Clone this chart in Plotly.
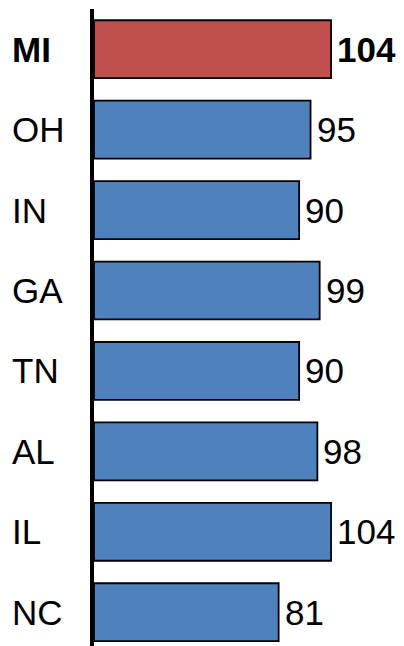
''' State ranking bar chart '''
import plotly.graph_objects as go

states = ['MI', 'OH', 'IN', 'GA', 'TN', 'AL', 'IL', 'NC']
values = [104, 95, 90, 99, 90, 98, 104, 81]
highlight = 'MI'

red = '#C0504D'
blue = '#4F81BD'
font = 'Liberation Sans, Arial, sans-serif'

colors = [red if s == highlight else blue for s in states]

fig = go.Figure()

fig.add_trace(
    go.Bar(
        x = values,
        y = states,
        orientation = 'h',
        marker = dict(color=colors, line=dict(color='black', width=1.8)),
        width = 0.72,
        hoverinfo = 'x+y'
    )
)

# state names (left aligned) and value labels
for s, v in zip(states, values):
    bold = s == highlight
    fig.add_annotation(
        x = -84 / 310,
        xref = 'paper',
        y = s,
        yref = 'y',
        xanchor = 'left',
        yanchor = 'middle',
        showarrow = False,
        text = '<b>%s</b>' % s if bold else s,
        font = dict(size=35, color='black', family=font)
    )
    fig.add_annotation(
        x = v,
        y = s,
        xanchor = 'left',
        yanchor = 'middle',
        xshift = 4,
        showarrow = False,
        text = '<b>%d</b>' % v if bold else '%d' % v,
        font = dict(size=35, color='black', family=font)
    )

fig.update_layout(
    width = 404,
    height = 646,
    margin = dict(l=94, r=0, t=9, b=0, autoexpand=False),
    plot_bgcolor = 'white',
    paper_bgcolor = 'white',
    showlegend = False,
    xaxis = dict(
        range = [0, 136],
        visible = False,
        showgrid = False,
        zeroline = False
    ),
    yaxis = dict(
        categoryorder = 'array',
        categoryarray = states,
        range = [7.42, -0.5],
        showticklabels = False,
        showgrid = False,
        zeroline = False,
        showline = True,
        linecolor = 'black',
        linewidth = 4,
        ticks = ''
    )
)

# drop the default page margin so the figure sits at the window's corner
fig.write_html(
    'out.html',
    config = {'displayModeBar': False},
    post_script = "document.body.style.margin='0';"
)
